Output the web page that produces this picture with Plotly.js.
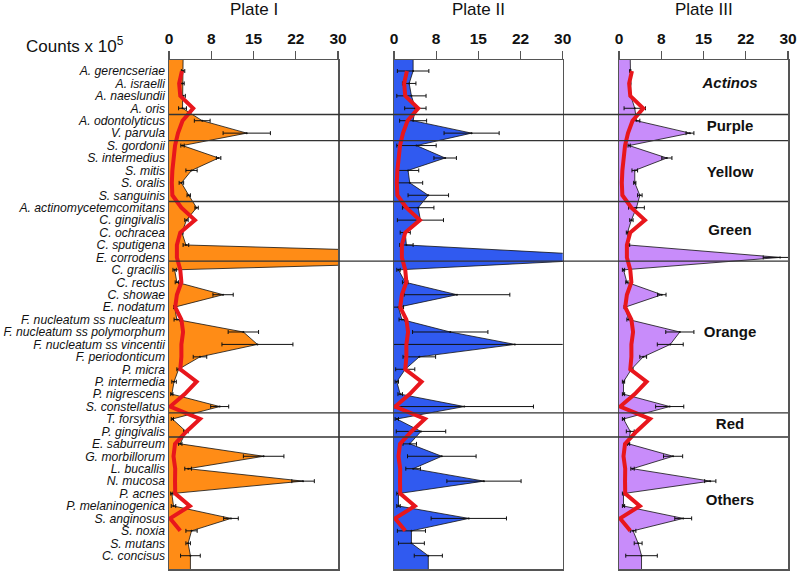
<!DOCTYPE html>
<html>
<head>
<meta charset="utf-8">
<script src="https://cdn.plot.ly/plotly-3.0.1.min.js"></script>
<style>html,body{margin:0;padding:0;background:#fff;}#chart{width:800px;height:572px;}</style>
</head>
<body>
<div id="chart"></div>
<script>
// ---------------- DATA ----------------
const species = [
  "A. gerencseriae","A. israelli","A. naeslundii","A. oris","A. odontolyticus",
  "V. parvula","S. gordonii","S. intermedius","S. mitis","S. oralis",
  "S. sanguinis","A. actinomycetemcomitans","C. gingivalis","C. ochracea","C. sputigena",
  "E. corrodens","C. gracilis","C. rectus","C. showae","E. nodatum",
  "F. nucleatum ss nucleatum","F. nucleatum ss polymorphum","F. nucleatum ss vincentii","F. periodonticum","P. micra",
  "P. intermedia","P. nigrescens","S. constellatus","T. forsythia","P. gingivalis",
  "E. saburreum","G. morbillorum","L. bucallis","N. mucosa","P. acnes",
  "P. melaninogenica","S. anginosus","S. noxia","S. mutans","C. concisus"
];
const plateTitles = ["Plate I","Plate II","Plate III"];

const plate1 = [2.5,2.4,2.5,2.4,5.9,13.8,2.4,8.8,4.0,2.2,
                3.5,4.9,3.1,2.3,3.0,80,1.0,1.4,9.6,1.0,
                1.4,13.2,15.7,5.5,1.7,0.9,0.5,9.0,0.6,3.0,
                2.0,16.8,3.4,23.8,0.5,0.8,11.0,4.0,3.4,3.8];
const plate1Err = [0.3,0.3,0.4,0.7,1.4,4.2,0.3,0.4,1.0,0.4,
                   0.3,0.3,0.3,0.2,0.5,0,0.3,0.3,1.8,0.2,
                   0.5,2.7,6.3,1.2,0.3,0.4,0.2,1.6,0.2,0.4,
                   0.3,3.6,0.6,2.0,0.2,0.4,1.3,1.0,0.4,1.75];

const plate2 = [3.4,2.7,3.1,3.8,3.4,13.8,4.0,9.1,2.5,2.8,
                6.1,4.3,4.7,2.0,2.2,44,0.8,2.0,11.2,0.8,
                1.4,10.0,21.5,4.5,2.0,0.5,1.1,12.5,0.5,4.8,
                2.8,8.5,3.4,16.0,0.8,0.8,13.3,3.1,3.1,6.1];
const plate2Err = [2.8,1.2,2.6,1.9,2.4,4.9,3.5,2.0,1.9,2.3,
                   3.6,2.8,4.1,0.9,1.2,0,0.3,0.5,9.4,0.9,
                   0.5,6.7,30,2.9,1.7,0.3,0.4,12.3,0.3,4.4,
                   1.2,6.1,1.3,6.6,0.3,0.3,6.7,2.5,2.3,2.5];

const plate3 = [2.0,2.0,2.1,2.8,3.1,12.6,1.8,8.5,2.8,2.8,
                3.7,3.1,2.2,1.5,1.7,28.6,0.8,1.4,7.6,1.1,
                1.7,10.8,9.1,4.3,2.2,0.8,0.8,9.0,0.8,2.0,
                1.7,9.6,2.4,16.2,0.8,0.8,11.4,2.5,3.4,4.0];
const plate3Err = [0.1,0.1,0.1,1.9,0.6,0.7,0.2,0.9,0.5,0.2,
                   0.4,1.4,0.3,0.2,0.2,3.0,0.2,0.2,0.75,0.2,
                   0.3,2.5,2.3,0.6,0.3,0.2,0.2,2.5,0.2,0.7,
                   0.2,1.7,0.3,1.0,0.2,0.2,1.5,0.5,0.7,2.8];

// reference profile (red line), S. noxia is last point
const redProfile = [2.3,1.8,2.0,4.3,2.4,1.6,1.07,0.77,0.6,0.5,
                    0.6,2.2,4.6,2.0,1.4,1.4,2.0,2.2,1.4,1.1,
                    2.2,2.5,2.2,2.2,2.0,4.9,2.8,0.2,5.5,3.1,
                    1.07,0.8,1.1,1.07,1.1,3.7,0.2,2.0];

const tickVals = [0,7.5,15,22.5,30];
const tickText = ["0","8","15","22","30"];

const groups = ["<i>Actinos</i>","Purple","Yellow","Green","Orange","Red","Others"];
const groupPos = [1.1,4.5,8.2,12.9,21.1,28.5,34.6];
const groupBounds = [3.5,5.6,10.5,15.3,27.5,29.45];

// ---------------- LAYOUT / TRACES ----------------
const FONT = "Liberation Sans, Arial, Helvetica, sans-serif";
const W = 800;
const Y_TOP = -0.885, Y_BOT = 40.07;
const domains = [[169/W,338/W],[394/W,562.7/W],[619/W,788/W]];
const colors = ["rgb(255,140,22)","rgb(48,90,240)","rgb(200,140,250)"];
const plates = [plate1,plate2,plate3];
const errs = [plate1Err,plate2Err,plate3Err];
const idx = species.map((s,i)=>i);

const traces = [];
plates.forEach((vals,p)=>{
  const xa = p===0 ? "x" : "x"+(p+1);
  const ya = p===0 ? "y" : "y"+(p+1);
  traces.push({
    type:"scatter", mode:"lines", xaxis:xa, yaxis:ya,
    x:[vals[0]].concat(vals,[vals[vals.length-1]]),
    y:[Y_TOP].concat(idx,[Y_BOT]),
    fill:"tozerox", fillcolor:colors[p],
    line:{color:"#111",width:0.8}, hoverinfo:"skip", showlegend:false
  });
  traces.push({
    type:"scatter", mode:"markers", xaxis:xa, yaxis:ya,
    x:vals, y:idx,
    marker:{size:2,color:"#111"},
    error_x:{type:"data",array:errs[p],symmetric:true,color:"#111",thickness:1,width:2},
    showlegend:false
  });
  traces.push({
    type:"scatter", mode:"lines", xaxis:xa, yaxis:ya,
    x:redProfile, y:idx.slice(0,redProfile.length),
    line:{color:"rgb(232,22,28)",width:4},
    showlegend:false
  });
});
traces.push({
  type:"scatter", mode:"text", xaxis:"x3", yaxis:"y3",
  x:groups.map(()=>19.7), y:groupPos, text:groups,
  textfont:{family:FONT,size:15,color:"#111",weight:"bold"},
  showlegend:false, hoverinfo:"skip"
});

const layout = {
  width:800, height:572,
  margin:{l:0,r:0,t:60,b:3},
  paper_bgcolor:"#fff", plot_bgcolor:"#fff",
  font:{family:FONT,color:"#111"},
  showlegend:false,
  shapes: groupBounds.map(b=>({type:"line",xref:"paper",yref:"y",x0:169/W,x1:788/W,y0:b,y1:b,
                                line:{color:"#333",width:1.3},layer:"above"})),
  annotations: plateTitles.map((t,p)=>({
    text:t, xref:"paper", yref:"paper",
    x:(domains[p][0]+domains[p][1])/2, y:1+(60-9)/509,
    xanchor:"center", yanchor:"middle", showarrow:false,
    font:{family:FONT,size:17,color:"#111"}
  })).concat([{
    text:"Counts x 10<sup>5</sup>", xref:"paper", yref:"paper",
    x:24/W, y:1+(60-45)/509, xanchor:"left", yanchor:"middle", showarrow:false,
    font:{family:FONT,size:17,color:"#111"}
  }])
};
for(let p=0;p<3;p++){
  const xn = p===0 ? "xaxis" : "xaxis"+(p+1);
  const yn = p===0 ? "yaxis" : "yaxis"+(p+1);
  const xa = p===0 ? "x" : "x"+(p+1);
  const ya = p===0 ? "y" : "y"+(p+1);
  layout[xn] = {
    domain:domains[p], anchor:ya, side:"top", range:[0,30],
    tickmode:"array", tickvals:tickVals, ticktext:tickText,
    ticks:"outside", ticklen:8, tickwidth:1.3, tickcolor:"#555",
    tickfont:{family:FONT,size:15.5,color:"#111",weight:"bold"},
    showgrid:false, zeroline:false, showline:true, mirror:true,
    linecolor:"#555", linewidth:1.5, fixedrange:true
  };
  layout[yn] = {
    domain:[0,1], anchor:xa, range:[Y_BOT,Y_TOP],
    tickmode:"array", tickvals:idx, ticktext:species,
    showticklabels:p===0, ticks:"",
    tickfont:{family:FONT,size:12.2,color:"#111",style:"italic"},
    showgrid:false, zeroline:false, showline:true, mirror:true,
    linecolor:"#555", linewidth:1.5, fixedrange:true
  };
  if(p>0) layout[yn].matches = "y";
}
Plotly.newPlot("chart", traces, layout, {staticPlot:true});
</script>
</body>
</html>
